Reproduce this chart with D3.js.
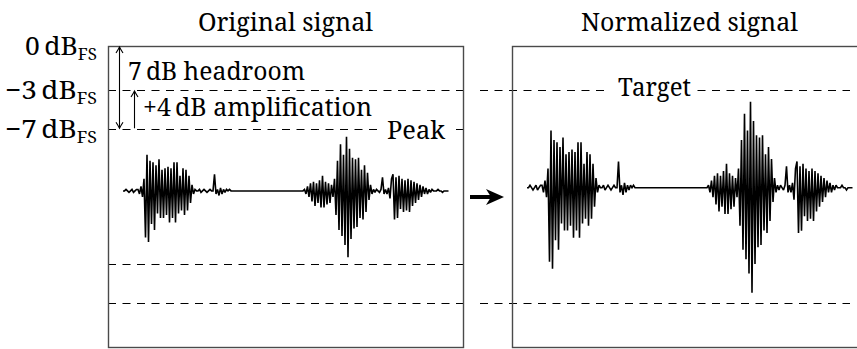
<!DOCTYPE html>
<html><head><meta charset="utf-8">
<script src="https://cdn.jsdelivr.net/npm/d3@7"></script>
<style>
body{margin:0;background:#fff}
svg{display:block}
text{font-family:"Noto Serif","Liberation Serif",serif;fill:#000}
</style>
</head><body><svg id="c" width="857" height="349"></svg>
<script>
// ---- data ----
const panelTitles = ["Original signal", "Normalized signal"];
const levelLabelsDb = [0, -3, -7];
const peakDb = -7;
const targetDb = -3;
const gainDb = 4;             // +4 dB amplification
const headroomDb = 7;         // 7 dB headroom
const dcOffset = 3.7;         // % of full scale
// waveform samples, % of full scale
const waveform = [
  0,0,1,0,-1,0,1,-1,0,1,
  1,-2,3,-4,8,-31,24,-34,20,-22,
  19,-26,17,-15,21,-18,14,-18,15,-16,
  16,-21,15,-18,19,-21,19,-15,10,-13,
  15,-16,14,-13,10,-8,4,-2,1,0,
  0,1,-1,0,1,0,-1,0,1,0,
  0,11,-2,1,-3,2,-2,1,-1,1,
  0,1,0,0,0,0,0,0,0,0,
  0,0,0,0,0,0,0,0,0,0,
  0,0,0,0,0,0,0,0,0,0,
  0,0,0,0,0,0,0,0,0,0,
  0,0,0,0,0,0,0,0,0,0,
  0,1,-2,3,-4,5,-7,6,-10,5,
  -8,7,-11,10,-11,6,-9,5,-8,4,
  -4,8,-16,20,-26,31,-30,24,-36,36,
  -44,28,-32,22,-25,21,-24,22,-18,14,
  -19,17,-14,12,-6,4,-2,1,-1,1,
  0,-1,1,9,-2,1,-2,2,-5,8,
  11,-19,9,-18,10,-12,8,-14,7,-13,
  8,-14,7,-10,6,-8,5,-6,4,-4,
  3,-2,2,-2,1,-1,1,0,0,0,
  1,0,0,-1,0,0,0,0
];

// ---- layout ----
const svg = d3.select("#c");
const boxTop = 46, boxBottom = 347, boxW = 355;
const panelX = [108, 512];
const y = d3.scaleLinear().domain([-100, 100]).range([boxBottom, boxTop]);
const lin = db => 100 * Math.pow(10, db / 20);
const crisp = v => Math.round(v) + 0.5;
const gain = Math.pow(10, gainDb / 20);
const xs = d3.scaleLinear().domain([0, waveform.length - 1]).range([15, 340.5]);
const dash = "8,6.5";

// dashed level lines
[targetDb, peakDb].forEach(db => {
  [1, -1].forEach(s => {
    const yy = crisp(y(s * lin(db)));
    svg.append("line").attr("x1", 108).attr("x2", 466).attr("y1", yy).attr("y2", yy)
      .attr("stroke", "#000").attr("stroke-width", 1.2).attr("stroke-dasharray", dash);
  });
});
[1, -1].forEach(s => {
  const yy = crisp(y(s * lin(targetDb)));
  svg.append("line").attr("x1", 480).attr("x2", 850).attr("y1", yy).attr("y2", yy)
    .attr("stroke", "#000").attr("stroke-width", 1.2).attr("stroke-dasharray", dash);
});

// boxes
panelX.forEach(px => {
  svg.append("rect").attr("x", px + 0.5).attr("y", boxTop + 0.5)
    .attr("width", boxW).attr("height", boxBottom - boxTop)
    .attr("fill", "none").attr("stroke", "#4a4a4a").attr("stroke-width", 1.4);
});

// titles
const titleWidths = [175, 217];
panelTitles.forEach((t, i) => {
  svg.append("text").attr("x", panelX[i] + boxW / 2).attr("y", 31)
    .attr("text-anchor", "middle").attr("font-size", 25)
    .attr("textLength", titleWidths[i]).attr("lengthAdjust", "spacingAndGlyphs")
    .text(t);
});

// waveforms
const gains = [1, gain];
panelX.forEach((px, i) => {
  const line = d3.line()
    .x((d, j) => px + xs(j))
    .y(d => y((d + dcOffset) * gains[i]));
  svg.append("path").datum(waveform).attr("d", line)
    .attr("fill", "none").attr("stroke", "#000").attr("stroke-width", 1.6)
    .attr("stroke-linejoin", "miter").attr("stroke-miterlimit", 2);
});

// level labels
const labelWidths = [72, 92, 92];
levelLabelsDb.forEach((db, i) => {
  const t = svg.append("text").attr("x", 97).attr("y", y(lin(db)) + 9)
    .attr("text-anchor", "end").attr("font-size", 25)
    .attr("textLength", labelWidths[i]).attr("lengthAdjust", "spacingAndGlyphs");
  t.append("tspan").text((db < 0 ? "\u2212" + Math.abs(db) : db) + "\u2009dB");
  t.append("tspan").attr("font-size", 16).attr("dy", 5).text("FS");
});

// thin arrows
function head(x, yy, dir) { // dir -1 = pointing up, 1 = down
  const h = 6 * -dir;
  return `M${x - 3.5},${yy + h} Q${x - 1},${yy + h * 0.35} ${x},${yy} Q${x + 1},${yy + h * 0.35} ${x + 3.5},${yy + h}`;
}
const yTop = y(lin(0)), yPeak = y(lin(peakDb)), yTarget = y(lin(targetDb));
svg.append("line").attr("x1", 119.5).attr("x2", 119.5).attr("y1", yTop + 1).attr("y2", yPeak - 1)
  .attr("stroke", "#000").attr("stroke-width", 1.1);
svg.append("path").attr("d", head(119.5, yTop + 1, -1)).attr("fill", "none").attr("stroke", "#000").attr("stroke-width", 1.1);
svg.append("path").attr("d", head(119.5, yPeak - 1, 1)).attr("fill", "none").attr("stroke", "#000").attr("stroke-width", 1.1);
svg.append("line").attr("x1", 134.5).attr("x2", 134.5).attr("y1", yPeak - 1).attr("y2", yTarget + 1)
  .attr("stroke", "#000").attr("stroke-width", 1.1);
svg.append("path").attr("d", head(134.5, yTarget + 1, -1)).attr("fill", "none").attr("stroke", "#000").attr("stroke-width", 1.1);

svg.append("text").attr("x", 128).attr("y", 80).attr("font-size", 25)
  .attr("textLength", 177).attr("lengthAdjust", "spacingAndGlyphs")
  .text(headroomDb + "\u2009dB headroom");
svg.append("text").attr("x", 143).attr("y", 116).attr("font-size", 25)
  .attr("textLength", 229).attr("lengthAdjust", "spacingAndGlyphs")
  .text("+" + gainDb + "\u2009dB amplification");

// Peak / Target labels with white background
function bgLabel(txt, x, baseline, w, bgx0, bgx1) {
  svg.append("rect").attr("x", bgx0).attr("y", baseline - 20).attr("width", bgx1 - bgx0).attr("height", 24)
    .attr("fill", "#fff");
  svg.append("text").attr("x", x).attr("y", baseline).attr("font-size", 25)
    .attr("textLength", w).attr("lengthAdjust", "spacingAndGlyphs").text(txt);
}
bgLabel("Peak", 387, yPeak + 10, 58, 377, 452);
bgLabel("Target", 618, yTarget + 6, 73, 610, 697);

// main arrow
svg.append("line").attr("x1", 470).attr("x2", 492).attr("y1", 197).attr("y2", 197)
  .attr("stroke", "#000").attr("stroke-width", 4);
svg.append("path").attr("d", "M504,197 L486,189 L491,197 L486,205 Z").attr("fill", "#000");
</script>
</body></html>
